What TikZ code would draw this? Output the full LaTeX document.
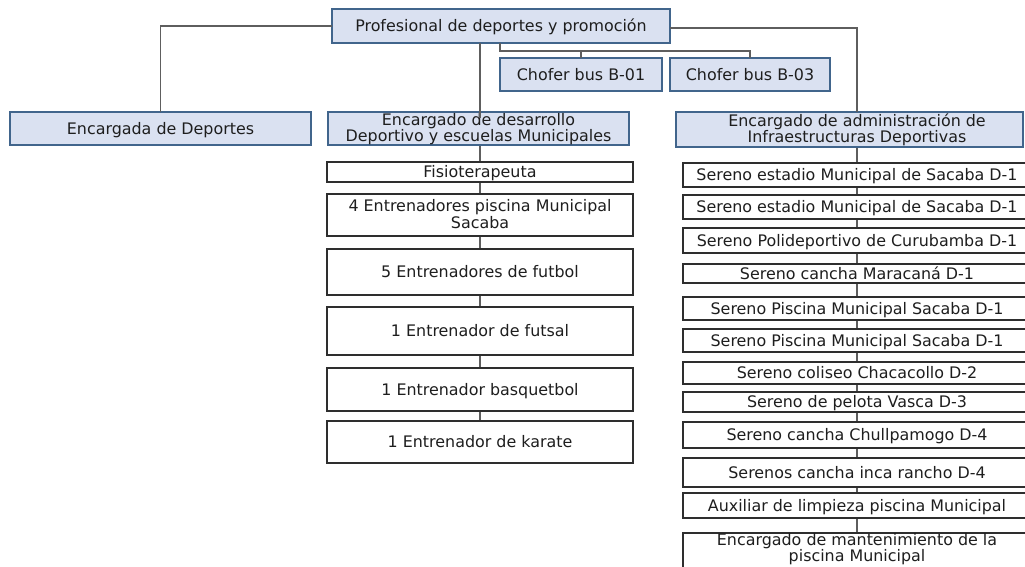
\documentclass[tikz,border=0pt]{standalone}
\usepackage{fontspec}
\setmainfont{DejaVu Sans}
\usetikzlibrary{backgrounds}
\definecolor{bluefill}{HTML}{DAE1F1}
\definecolor{bluebd}{HTML}{41658C}
\definecolor{plainbd}{HTML}{2E2E2E}
\definecolor{linec}{HTML}{5E5E5E}
\definecolor{txt}{HTML}{1E1E1E}
\newcommand{\obox}[7]{\node[#1, minimum width={#5-#3}, minimum height={#6-#4}] (#2) at ({(#3+#5)/2},{(#4+#6)/2}) {#7};}
\begin{document}
\begin{tikzpicture}[x=1pt,y=-1pt,
  every node/.style={font=\fontsize{15.9}{15}\selectfont, text=txt, inner sep=0pt, outer sep=0pt},
  bluebox/.style={draw=bluebd, fill=bluefill, line width=1.2pt, rectangle},
  plainbox/.style={draw=plainbd, fill=white, line width=1.1pt, rectangle},
  conn/.style={draw=linec, line width=1.3pt},
  one/.style={text height=11.6pt, text depth=0pt},
  two/.style={align=center, text height=26.6pt, text depth=0pt}]
\useasboundingbox (0,0) rectangle (1025,566);
% top level
\obox{bluebox,one}{top}{332}{9}{670}{43}{Profesional de deportes y promoción}
\obox{bluebox,one}{bus1}{500}{58}{662}{91}{Chofer bus B-01}
\obox{bluebox,one}{bus3}{670}{58}{830}{91}{Chofer bus B-03}
\obox{bluebox,one}{ench}{10}{112}{311}{145}{Encargada de Deportes}
\obox{bluebox,two}{des}{328}{112}{629}{145}{Encargado de desarrollo\\Deportivo y escuelas Municipales}
\obox{bluebox}{adm}{676}{112}{1023}{147}{}
\node[two] (admlbl) at (857,129.5) {Encargado de administración de\\Infraestructuras Deportivas};
% middle column
\obox{plainbox,one}{fisio}{327}{162}{633}{182}{Fisioterapeuta}
\obox{plainbox,two}{ent4}{327}{194}{633}{236}{4 Entrenadores piscina Municipal\\Sacaba}
\obox{plainbox,one}{ent5}{327}{249}{633}{295}{5 Entrenadores de futbol}
\obox{plainbox,one}{fut}{327}{307}{633}{355}{1 Entrenador de futsal}
\obox{plainbox,one}{bas}{327}{368}{633}{411}{1 Entrenador basquetbol}
\obox{plainbox,one}{kar}{327}{421}{633}{463}{1 Entrenador de karate}
% right column
\obox{plainbox,one}{s1}{683}{163}{1031}{187}{Sereno estadio Municipal de Sacaba D-1}
\obox{plainbox,one}{s2}{683}{195}{1031}{219}{Sereno estadio Municipal de Sacaba D-1}
\obox{plainbox,one}{s3}{683}{228}{1031}{253}{Sereno Polideportivo de Curubamba D-1}
\obox{plainbox,one}{s4}{683}{264}{1031}{283}{Sereno cancha Maracaná D-1}
\obox{plainbox,one}{s5}{683}{297}{1031}{320}{Sereno Piscina Municipal Sacaba D-1}
\obox{plainbox,one}{s6}{683}{329}{1031}{352}{Sereno Piscina Municipal Sacaba D-1}
\obox{plainbox,one}{s7}{683}{362}{1031}{384}{Sereno coliseo Chacacollo D-2}
\obox{plainbox,one}{s8}{683}{392}{1031}{412}{Sereno de pelota Vasca D-3}
\obox{plainbox,one}{s9}{683}{422}{1031}{448}{Sereno cancha Chullpamogo D-4}
\obox{plainbox,one}{s10}{683}{458}{1031}{487}{Serenos cancha inca rancho D-4}
\obox{plainbox,one}{s11}{683}{493}{1031}{518}{Auxiliar de limpieza piscina Municipal}
\obox{plainbox}{s12}{683}{533}{1031}{578}{}
\node[two] (s12lbl) at (857,548.5) {Encargado de mantenimiento de la\\piscina Municipal};
% connectors
\coordinate (colM) at (480,118);
\coordinate (busbar) at (500,51);
\coordinate (colR) at (857,28);
\draw[conn] (top.west) -- (top.west -| ench.north) -- (ench.north);
\draw[conn] (top.south -| colM) -- (colM);
\draw[conn] (top.south -| busbar) -- (busbar) -- (busbar -| bus3.north) -- (bus3.north);
\draw[conn] (bus1.north |- busbar) -- (bus1.north);
\draw[conn] (top.east |- colR) -- (colR) -- (colR |- adm.north);
\begin{scope}[on background layer]
\draw[conn] (des.south -| colM) -- (colM |- kar.north);
\draw[conn] (adm.south -| colR) -- (colR |- s12.north);
\end{scope}
\end{tikzpicture}
\end{document}
